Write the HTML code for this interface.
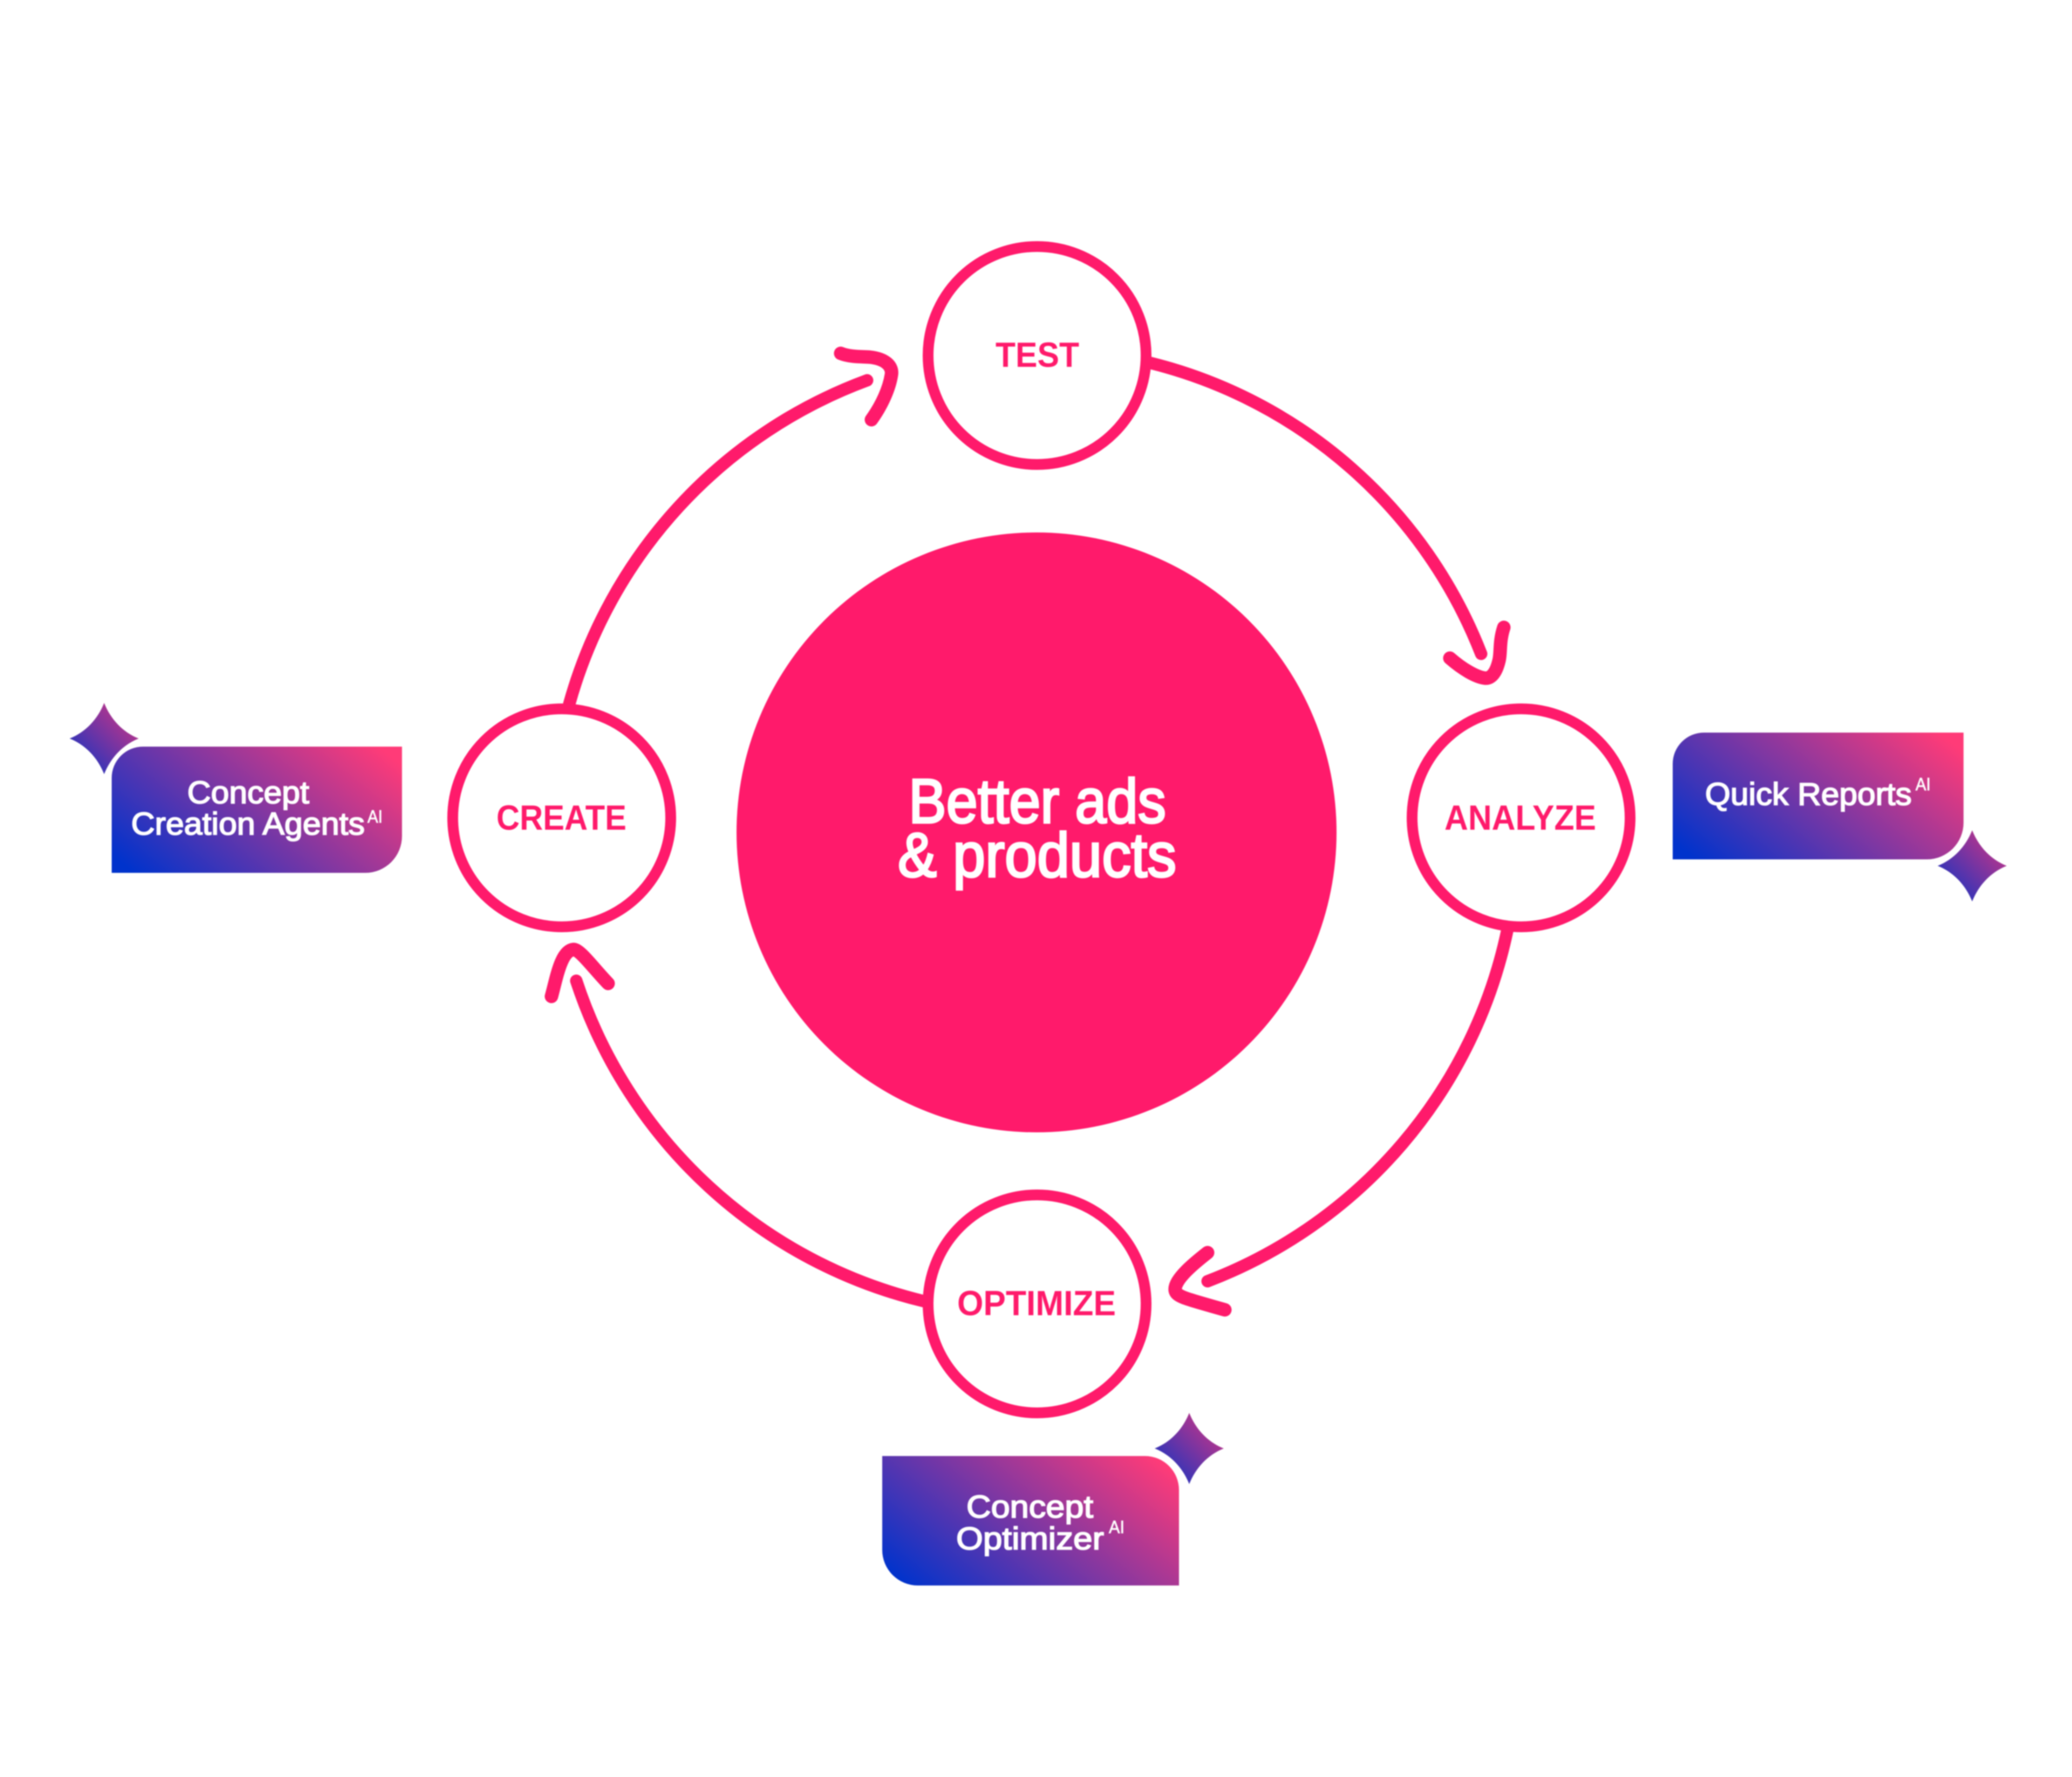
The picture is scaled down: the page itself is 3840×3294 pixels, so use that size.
<!DOCTYPE html>
<html lang="en">
<head>
<meta charset="utf-8">
<title>Better ads &amp; products</title>
<style>
html,body{margin:0;padding:0;background:#fff;width:3840px;height:3294px;overflow:hidden}
svg{display:block;filter:blur(1px)}
text{font-family:"Liberation Sans",Arial,sans-serif}
.node{font-size:65px;font-weight:700;fill:#ff1a6b}
.main{font-size:116px;font-weight:400;fill:#fff;stroke:#fff;stroke-width:4px}
.badge{font-size:58px;font-weight:400;fill:#fff;stroke:#fff;stroke-width:2px}
.sup{font-size:33px;font-weight:400;fill:#fff;stroke:#fff;stroke-width:.8px}
</style>
</head>
<body>
<svg xmlns="http://www.w3.org/2000/svg" width="3840" height="3294" viewBox="0 0 3840 3294">
<defs>
<linearGradient id="g1" gradientUnits="userSpaceOnUse" x1="207" y1="1618" x2="533" y2="1214">
<stop offset="0.05" stop-color="#0033cc"/>
<stop offset="0.95" stop-color="#ff3b78"/>
</linearGradient>
<linearGradient id="g2" gradientUnits="userSpaceOnUse" x1="3100" y1="1593" x2="3426" y2="1189">
<stop offset="0.05" stop-color="#0033cc"/>
<stop offset="0.95" stop-color="#ff3b78"/>
</linearGradient>
<linearGradient id="g3" gradientUnits="userSpaceOnUse" x1="1635" y1="2939" x2="1970" y2="2527">
<stop offset="0.05" stop-color="#0033cc"/>
<stop offset="0.95" stop-color="#ff3b78"/>
</linearGradient>
<linearGradient id="s" x1="0" y1="1" x2="1" y2="0">
<stop offset="0.1" stop-color="#1a34c0"/>
<stop offset="1" stop-color="#e0357f"/>
</linearGradient>
<path id="star" d="M0,-66 C12,-36 34,-12 64,0 C34,12 12,36 0,66 C-12,36 -34,12 -64,0 C-34,-12 -12,-36 0,-66Z"/>
</defs>
<rect width="3840" height="3294" fill="#fff"/>

<!-- central circle -->
<circle cx="1921" cy="1543" r="556" fill="#ff1a6b"/>
<g transform="translate(1684,1525) scale(.9,1)">
<text class="main" x="0" y="0" textLength="530" lengthAdjust="spacing">Better ads</text>
</g>
<g transform="translate(1664,1625) scale(.93,1)">
<text class="main" x="0" y="0" textLength="555" lengthAdjust="spacing">&amp; products</text>
</g>

<!-- nodes -->
<g fill="none" stroke="#ff1a6b" stroke-width="20">
<circle cx="1922" cy="659" r="202"/>
<circle cx="1041" cy="1516" r="202"/>
<circle cx="2819" cy="1516" r="202"/>
<circle cx="1922" cy="2417" r="202"/>
</g>
<text class="node" x="1845" y="680" textLength="155" lengthAdjust="spacingAndGlyphs">TEST</text>
<text class="node" x="920" y="1538" textLength="241" lengthAdjust="spacingAndGlyphs">CREATE</text>
<text class="node" x="2677" y="1538" textLength="281" lengthAdjust="spacingAndGlyphs">ANALYZE</text>
<text class="node" x="1774" y="2438" textLength="294" lengthAdjust="spacingAndGlyphs">OPTIMIZE</text>

<!-- connector arcs -->
<g fill="none" stroke="#ff1a6b" stroke-width="23" stroke-linecap="round" stroke-linejoin="round">
<path d="M2133,673 A888,888 0 0 1 2745,1212"/>
<path d="M2794,1722 A893,893 0 0 1 2238,2375"/>
<path d="M1712,2412 A899,899 0 0 1 1068,1818"/>
<path d="M1055,1305 A895,895 0 0 1 1607,705"/>
</g>

<!-- arrowheads -->
<g fill="none" stroke="#ff1a6b" stroke-width="25" stroke-linecap="round" stroke-linejoin="round">
<path d="M1558,655 C1575,662 1598,661 1612,662 C1640,665 1655,678 1652,695 C1648,720 1635,750 1615,778"/>
<path d="M2787,1163 C2778,1190 2782,1210 2778,1225 C2772,1250 2762,1258 2752,1257 C2735,1255 2710,1240 2687,1220"/>
<path d="M2238,2322 C2215,2340 2175,2372 2178,2392 C2180,2404 2200,2408 2270,2428"/>
<path d="M1022,1847 C1032,1810 1040,1762 1063,1760 C1075,1760 1100,1795 1127,1823"/>
</g>

<!-- badges -->
<path d="M265,1384 H745 V1550 A68,68 0 0 1 677,1618 H207 V1442 A58,58 0 0 1 265,1384Z" fill="url(#g1)"/>
<path d="M3158,1358 H3639 V1525 A68,68 0 0 1 3571,1593 H3100 V1416 A58,58 0 0 1 3158,1358Z" fill="url(#g2)"/>
<path d="M1635,2699 H2122 A63,63 0 0 1 2185,2762 V2939 H1701 A66,66 0 0 1 1635,2873Z" fill="url(#g3)"/>

<!-- stars -->
<use href="#star" transform="translate(193,1369)" fill="url(#s)"/>
<use href="#star" transform="translate(3655,1605)" fill="url(#s)"/>
<use href="#star" transform="translate(2204,2685)" fill="url(#s)"/>

<!-- badge text -->
<text class="badge" x="347" y="1489" textLength="226" lengthAdjust="spacingAndGlyphs">Concept</text>
<text class="badge" x="243" y="1547" textLength="433" lengthAdjust="spacingAndGlyphs">Creation Agents</text>
<text class="sup" x="681" y="1525" textLength="28" lengthAdjust="spacingAndGlyphs">AI</text>

<text class="badge" x="3160" y="1492" textLength="383" lengthAdjust="spacingAndGlyphs">Quick Reports</text>
<text class="sup" x="3550" y="1465" textLength="28" lengthAdjust="spacingAndGlyphs">AI</text>

<text class="badge" x="1791" y="2813" textLength="235" lengthAdjust="spacingAndGlyphs">Concept</text>
<text class="badge" x="1772" y="2872" textLength="274" lengthAdjust="spacingAndGlyphs">Optimizer</text>
<text class="sup" x="2055" y="2842" textLength="29" lengthAdjust="spacingAndGlyphs">AI</text>
</svg>
</body>
</html>
